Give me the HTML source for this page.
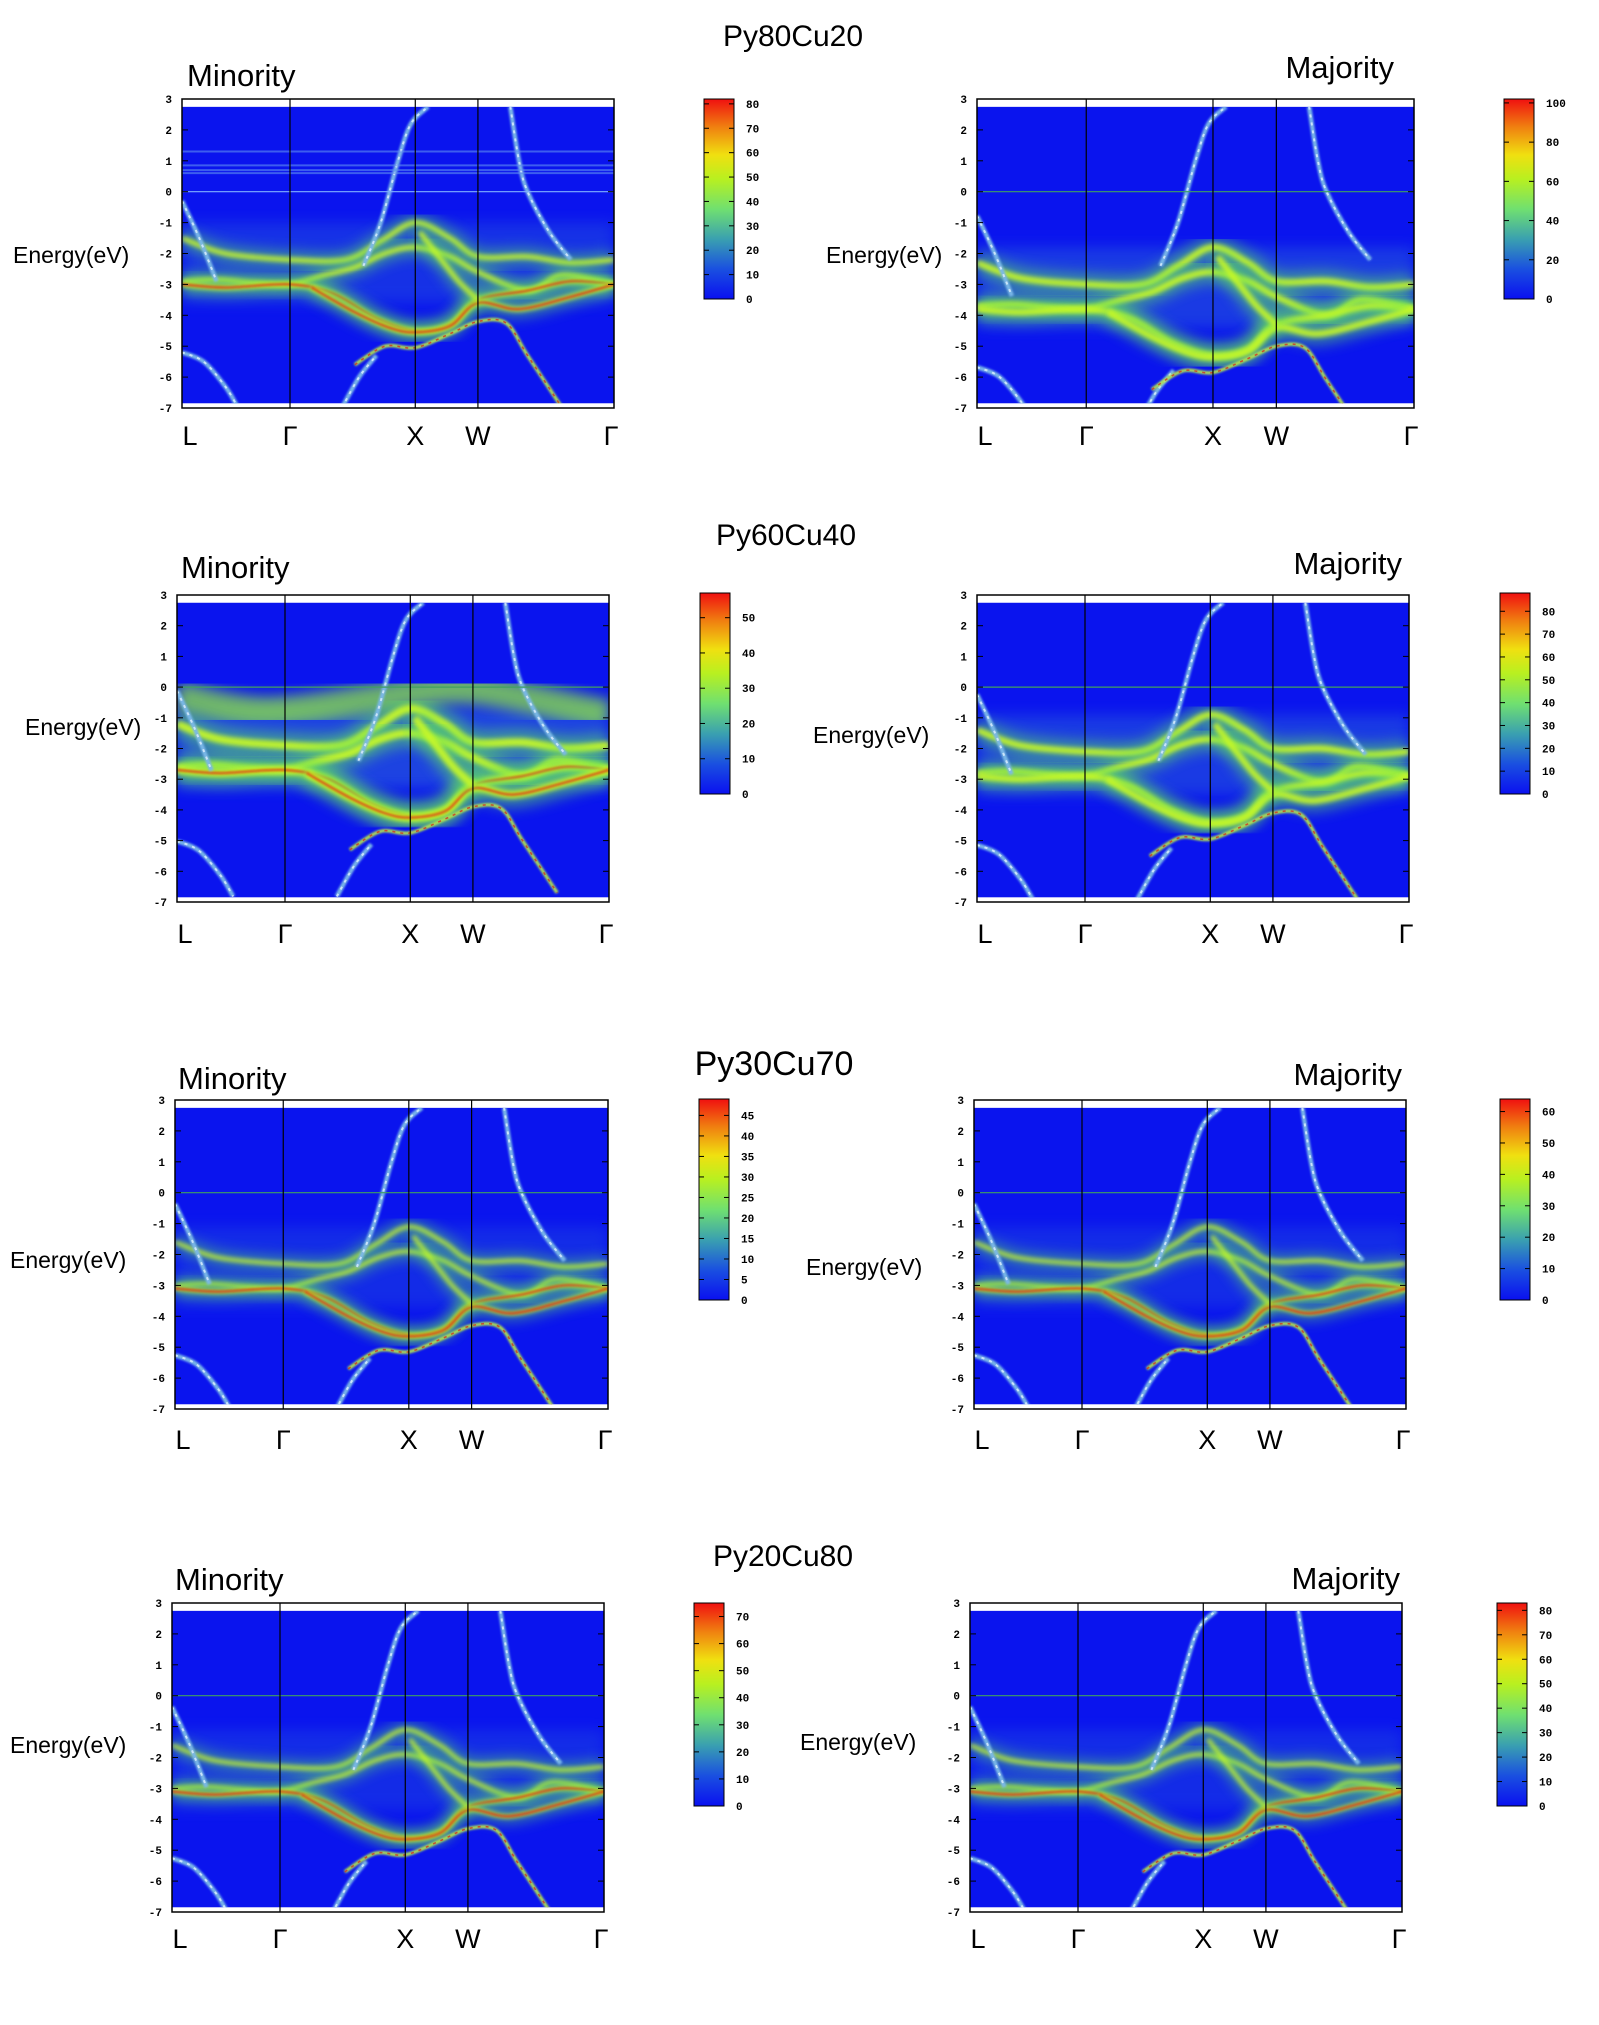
<!DOCTYPE html>
<html><head><meta charset="utf-8">
<style>
html,body{margin:0;padding:0;background:#fff;}
body{width:1599px;height:2025px;position:relative;overflow:hidden;font-family:"Liberation Sans",sans-serif;}
svg{position:absolute;left:0;top:0;}
</style></head>
<body>
<svg id="fig" width="1599" height="2025" viewBox="0 0 1599 2025">
<defs>
<filter id="blurBig" x="-20%" y="-20%" width="140%" height="140%"><feGaussianBlur stdDeviation="7"/></filter>
<filter id="blurMid" x="-20%" y="-20%" width="140%" height="140%"><feGaussianBlur stdDeviation="2.5"/></filter>
<filter id="blurSm" x="-20%" y="-20%" width="140%" height="140%"><feGaussianBlur stdDeviation="1"/></filter>
<linearGradient id="cbar" x1="0" y1="1" x2="0" y2="0">
<stop offset="0" stop-color="#0a10f0"/><stop offset="0.15" stop-color="#1a50e0"/>
<stop offset="0.3" stop-color="#3aa0b0"/><stop offset="0.45" stop-color="#70e070"/>
<stop offset="0.6" stop-color="#b8f020"/><stop offset="0.72" stop-color="#f0e010"/>
<stop offset="0.86" stop-color="#f08010"/><stop offset="1" stop-color="#f01010"/>
</linearGradient>
</defs>
</svg>
<script>
// ---- chart data ----
const kLabels = ["L","Γ","X","W","Γ"];
const kPos = [0, 0.25, 0.54, 0.685, 1];
const yTicks = [3,2,1,0,-1,-2,-3,-4,-5,-6,-7];
const titles = ["Py80Cu20","Py60Cu40","Py30Cu70","Py20Cu80"];
// d-band shapes (k fraction, energy eV)
const bandAk = [0,0.1,0.25,0.38,0.46,0.54,0.62,0.685,0.8,0.9,1];
const bandAe = [-1.5,-2.0,-2.2,-2.2,-1.6,-1.0,-1.5,-2.1,-2.1,-2.3,-2.2];
const bandBk = [0,0.08,0.17,0.25,0.33,0.4,0.47,0.54,0.62,0.685,0.8,0.88,1];
const bandBe = [-2.9,-2.85,-2.95,-3.0,-2.7,-2.45,-2.0,-1.8,-2.1,-2.6,-3.2,-2.7,-3.0];
const bandCk = [0,0.1,0.25,0.35,0.45,0.54,0.62,0.685,0.8,0.9,1];
const bandCe = [-3.0,-3.1,-3.0,-3.3,-4.1,-4.5,-4.3,-3.5,-3.2,-2.9,-3.0];
const bandDk = [0.3,0.4,0.48,0.54,0.62,0.685,0.78,0.9,1];
const bandDe = [-3.1,-3.9,-4.4,-4.55,-4.35,-3.6,-3.8,-3.4,-3.0];
const bandEk = [0.4,0.47,0.54,0.62,0.685,0.75,0.8,0.88];
const bandEe = [-5.6,-5.0,-5.05,-4.6,-4.2,-4.25,-5.3,-7.0];
const bandXWk = [0.55,0.6,0.64,0.685];
const bandXWe = [-1.3,-2.2,-2.9,-3.5];
// free-electron (sp) bands
const spLtopK = [0,0.04,0.08]; const spLtopE = [-0.3,-1.5,-2.9];
const spLbotK = [0,0.05,0.1,0.13]; const spLbotE = [-5.2,-5.5,-6.3,-7.0];
const spXlowK = [0.37,0.41,0.45]; const spXlowE = [-7.0,-6.0,-5.3];
const spXupK = [0.42,0.46,0.5,0.53,0.57]; const spXupE = [-2.4,-1.0,1.0,2.2,2.75];
const spWK = [0.76,0.78,0.8,0.85,0.9]; const spWE = [2.75,1.0,0.0,-1.3,-2.2];
// per-panel parameters (row-major: minority, majority)
const dShift = [0,-0.8, 0.3,0.1, -0.1,-0.1, -0.1,-0.1];
const broaden = [1,1.3, 1.6,1.3, 0.8,0.8, 0.8,0.8];
const hotBands = [1,0, 1,0, 1,1, 1,1];
const cbMax = [82,102, 57,88, 49,64, 75,83];
const cbStep = [10,20, 10,10, 5,10, 10,10];
const cbTop = [80,100, 50,80, 45,60, 70,80];

// ---- layout ----
const rows = [
 {y0:99,y1:408, minX:[182,614], majX:[977,1414], cbL:704, cbR:1504, cbY:[99,299], title:[793,46,30], minLab:[187,86], majLab:[1394,78], eL:[13,263], eR:[826,263], xl:445},
 {y0:595,y1:902, minX:[177,609], majX:[977,1409], cbL:700, cbR:1500, cbY:[593,794], title:[786,545,30], minLab:[181,578], majLab:[1402,574], eL:[25,735], eR:[813,743], xl:943},
 {y0:1100,y1:1409, minX:[175,608], majX:[974,1406], cbL:699, cbR:1500, cbY:[1099,1300], title:[774,1075,34], minLab:[178,1089], majLab:[1402,1085], eL:[10,1268], eR:[806,1275], xl:1449},
 {y0:1603,y1:1912, minX:[172,604], majX:[970,1402], cbL:694, cbR:1497, cbY:[1603,1806], title:[783,1566,30], minLab:[175,1590], majLab:[1400,1589], eL:[10,1753], eR:[800,1750], xl:1948}
];
const NS="http://www.w3.org/2000/svg";
const svg=document.getElementById('fig');
function mk(tag,attrs,parent){const e=document.createElementNS(NS,tag);for(const k in attrs)e.setAttribute(k,attrs[k]);(parent||svg).appendChild(e);return e;}
function smooth(pts){
 if(pts.length<2)return "";
 let d="M"+pts[0][0].toFixed(1)+","+pts[0][1].toFixed(1);
 for(let i=0;i<pts.length-1;i++){
  const p0=pts[i-1]||pts[i],p1=pts[i],p2=pts[i+1],p3=pts[i+2]||p2;
  const c1=[p1[0]+(p2[0]-p0[0])/6,p1[1]+(p2[1]-p0[1])/6];
  const c2=[p2[0]-(p3[0]-p1[0])/6,p2[1]-(p3[1]-p1[1])/6];
  d+=" C"+c1[0].toFixed(1)+","+c1[1].toFixed(1)+" "+c2[0].toFixed(1)+","+c2[1].toFixed(1)+" "+p2[0].toFixed(1)+","+p2[1].toFixed(1);
 }
 return d;
}
function panel(r,idx,x0,x1,side){
 const y0=r.y0,y1=r.y1;
 const xS=k=>x0+k*(x1-x0);
 const yS=e=>y0+(3-e)/10*(y1-y0);
 const g=mk('g',{});
 
 
 const clipId='clip'+idx;
 const cp=mk('clipPath',{id:clipId},g);
 mk('rect',{x:x0,y:yS(2.75),width:x1-x0,height:yS(-6.85)-yS(2.75)},cp);
 const hm=mk('g',{'clip-path':'url(#'+clipId+')'},g);
 const bg=mk('rect',{x:x0,y:yS(2.75),width:x1-x0,height:yS(-6.85)-yS(2.75),fill:'#0a14ee'},hm);
 
 
 const sh=dShift[idx], br=broaden[idx];
 const dBands=[[bandAk,bandAe],[bandBk,bandBe],[bandCk,bandCe],[bandDk,bandDe],[bandXWk,bandXWe]];
 const haze=mk('rect',{x:x0,y:yS(-1+sh),width:x1-x0,height:yS(-3.6+sh)-yS(-1+sh),fill:'#3a8ad0',opacity:0.25*br,filter:'url(#blurBig)'},hm);
 
 
 if(idx===2){
  const flat=mk('path',{d:smooth([[xS(0),yS(-0.3)],[xS(0.2),yS(-0.8)],[xS(0.45),yS(-0.4)],[xS(0.54),yS(-0.2)],[xS(0.7),yS(-0.1)],[xS(1),yS(-0.9)]]),stroke:'#90e840',fill:'none','stroke-width':30,opacity:0.75,filter:'url(#blurBig)'},hm);
  
  
 }
 dBands.forEach((b,bi)=>{
  const pts=b[0].map((k,i)=>[xS(k),yS(b[1][i]+sh)]);
  const d=smooth(pts);
  const glow=mk('path',{d,stroke:'#60e060',fill:'none','stroke-width':16*br,opacity:0.55,filter:'url(#blurBig)'},hm);
  
  
  const core=mk('path',{d,stroke:'#c8f828',fill:'none','stroke-width':5*br,opacity:0.95,filter:'url(#blurMid)'},hm);
  
  
  if(hotBands[idx]&&(bi===2||bi===3)){
   const hot=mk('path',{d,stroke:'#e03010',fill:'none','stroke-width':2.5,opacity:0.8,filter:'url(#blurSm)'},hm);
   
   
  }
 });
 const spBands=[[spLtopK,spLtopE],[spLbotK,spLbotE],[spXlowK,spXlowE],[spXupK,spXupE],[spWK,spWE],[bandEk,bandEe]];
 spBands.forEach((b,bi)=>{
  const s=(bi===3||bi===4)?0:(bi===5?sh:sh*0.6);
  const pts=b[0].map((k,i)=>[xS(k),yS(b[1][i]+s)]);
  const d=smooth(pts);
  const base=mk('path',{d,stroke:bi===5?'#b0e050':'#7ab8e8',fill:'none','stroke-width':bi===5?3.5:4.5,filter:'url(#blurSm)'},hm);
  
  
  const dash=mk('path',{d,stroke:bi===5?'#d03020':'#e0f0ff',fill:'none','stroke-width':bi===5?1.5:2,'stroke-dasharray':'3 5',opacity:0.8},hm);
  
  
 });
 const fl=mk('line',{x1:x0,x2:x1,y1:yS(0),y2:yS(0),stroke:idx===0?'#80b0ff':'#40a060','stroke-width':1.2},hm);
 
 
 if(idx===0){[0.6,0.7,0.85,1.3].forEach(e=>{mk('line',{x1:x0,x2:x1,y1:yS(e),y2:yS(e),stroke:'#6090f0','stroke-width':2,opacity:0.6},hm);});}
 const fr=mk('rect',{x:x0,y:y0,width:x1-x0,height:y1-y0,fill:'none',stroke:'#000','stroke-width':1.5},g);
 
 
 kPos.forEach((k,i)=>{
  if(i>0&&i<kPos.length-1){
   const l=mk('line',{x1:xS(k),x2:xS(k),y1:y0,y2:y1,stroke:'#000','stroke-width':1.2},g);
   
   
  }
  const t=mk('text',{x:xS(k)+(i===0?8:(i===4?-3:0)),y:r.xl,'text-anchor':'middle','font-size':27,fill:'#000','font-family':'"Liberation Sans",sans-serif'},g);
  t.textContent=kLabels[i];
  
  
 });
 yTicks.forEach(v=>{
  const y=yS(v);
  mk('line',{x1:x0,x2:x0+6,y1:y,y2:y,stroke:'#000'},g);
  mk('line',{x1:x1-6,x2:x1,y1:y,y2:y,stroke:'#000'},g);
  const t=mk('text',{x:x0-10,y:y+4,'text-anchor':'end','font-size':11,'font-weight':'bold',fill:'#000','font-family':'"Liberation Mono",monospace'},g);
  t.textContent=v;
  
  
 });
}
function colorbar(x,yr,idx){
 const g=mk('g',{});
 
 
 const y0=yr[0],y1=yr[1],w=30;
 mk('rect',{x,y:y0,width:w,height:y1-y0,fill:'url(#cbar)',stroke:'#000','stroke-width':1},g);
 for(let v=0;v<=cbTop[idx];v+=cbStep[idx]){
  const y=y1-(v/cbMax[idx])*(y1-y0);
  mk('line',{x1:x,x2:x+5,y1:y,y2:y,stroke:'#000'},g);
  mk('line',{x1:x+w-5,x2:x+w,y1:y,y2:y,stroke:'#000'},g);
  const t=mk('text',{x:x+w+12,y:y+4,'font-size':11,'font-weight':'bold',fill:'#000','font-family':'"Liberation Mono",monospace'},g);
  t.textContent=v;
  
  
 }
}
function txt(s,x,y,size,anchor,name){
 const t=mk('text',{x,y,'font-size':size,'text-anchor':anchor||'start',fill:'#000','font-family':'"Liberation Sans",sans-serif'});
 t.textContent=s;
 
 
}
rows.forEach((r,ri)=>{
 panel(r,ri*2,r.minX[0],r.minX[1],'minority');
 panel(r,ri*2+1,r.majX[0],r.majX[1],'majority');
 colorbar(r.cbL,r.cbY,ri*2);
 colorbar(r.cbR,r.cbY,ri*2+1);
 txt(titles[ri],r.title[0],r.title[1],r.title[2],'middle','row-title');
 txt('Minority',r.minLab[0],r.minLab[1],31,'start','minority-label');
 txt('Majority',r.majLab[0],r.majLab[1],31,'end','majority-label');
 txt('Energy(eV)',r.eL[0],r.eL[1],23,'start','y-axis-title');
 txt('Energy(eV)',r.eR[0],r.eR[1],23,'start','y-axis-title');
});
</script>
</body></html>
